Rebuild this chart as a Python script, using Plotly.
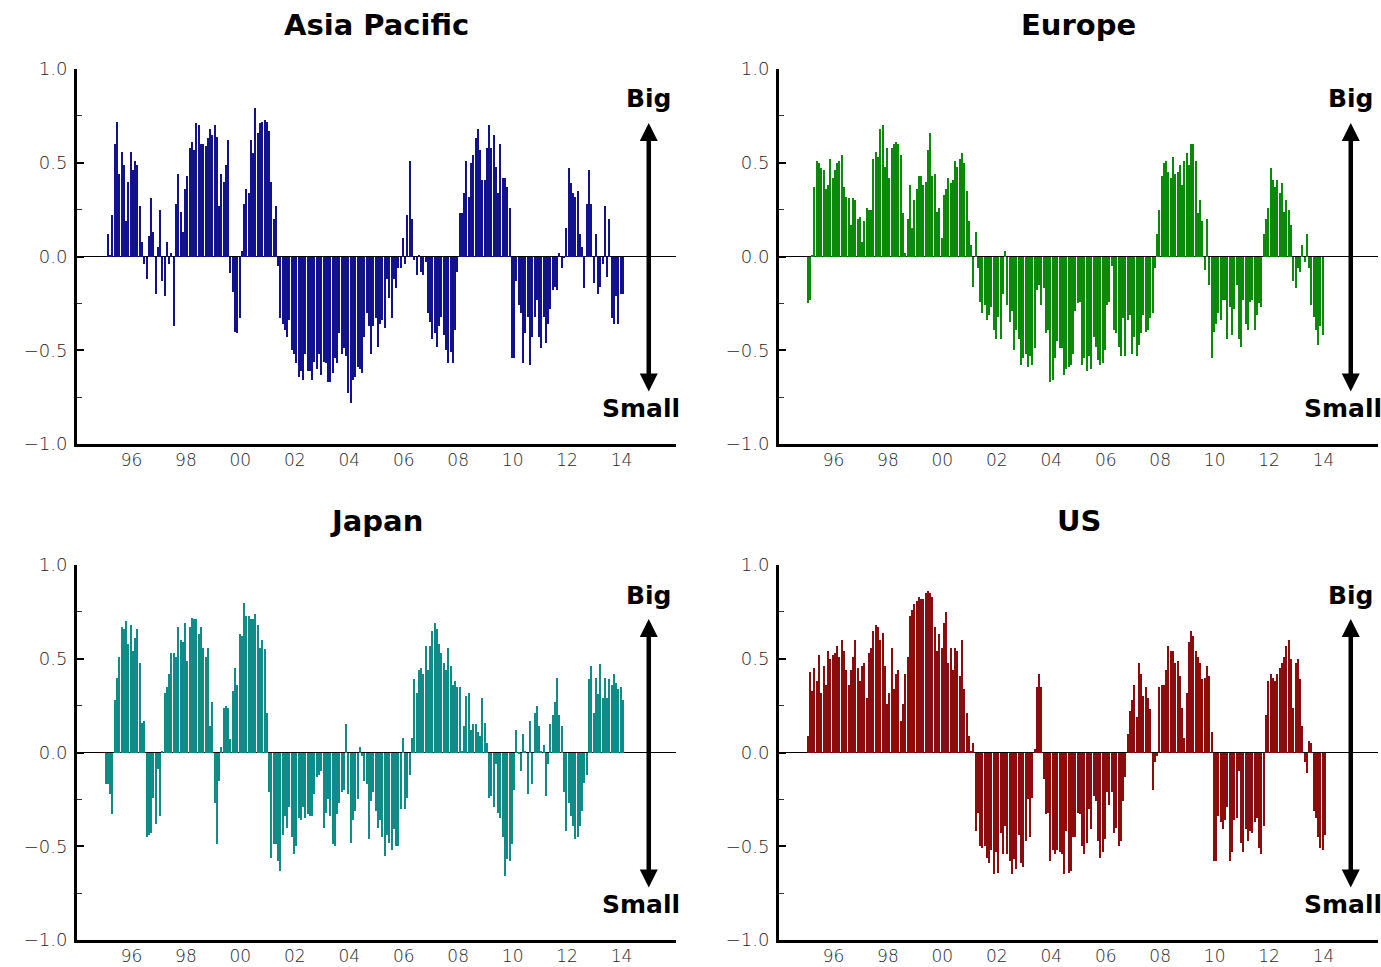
import plotly.graph_objects as go

# ---------------- data (monthly, from early 1995) ----------------
asia_pacific = [
    0.00, 0.12, 0.01, 0.22, 0.60, 0.72, 0.44, 0.56, 0.49, 0.19,
    0.40, 0.56, 0.46, 0.51, 0.49, 0.27, 0.08, -0.04, -0.12, 0.11,
    0.31, 0.13, -0.20, 0.05, 0.25, -0.13, -0.21, 0.08, -0.04, 0.02,
    -0.37, 0.28, 0.44, 0.24, 0.13, 0.36, 0.43, 0.58, 0.61, 0.57,
    0.71, 0.70, 0.60, 0.60, 0.59, 0.63, 0.68, 0.65, 0.70, 0.64,
    0.27, 0.44, 0.40, 0.49, 0.62, -0.09, -0.19, -0.40, -0.41, -0.33,
    0.03, 0.28, 0.36, 0.34, 0.62, 0.55, 0.79, 0.66, 0.71, 0.72,
    0.73, 0.72, 0.67, 0.40, 0.20, 0.27, -0.05, -0.33, -0.36, -0.39,
    -0.43, -0.34, -0.50, -0.52, -0.57, -0.64, -0.61, -0.66, -0.52, -0.61,
    -0.61, -0.66, -0.56, -0.60, -0.52, -0.63, -0.56, -0.57, -0.67, -0.67,
    -0.62, -0.54, -0.57, -0.41, -0.52, -0.49, -0.53, -0.73, -0.78, -0.66,
    -0.64, -0.59, -0.60, -0.62, -0.43, -0.30, -0.37, -0.52, -0.37, -0.33,
    -0.48,
    -0.36, -0.34, -0.38, -0.12, -0.22, -0.33, -0.12, -0.17, -0.06, -0.06,
    0.10, -0.04, 0.22, 0.51, 0.20, -0.02, -0.10, 0.01, -0.08, -0.10,
    -0.03, -0.30, -0.35, -0.44, -0.41, -0.48, -0.37, -0.32, -0.42, -0.50,
    -0.57, -0.51, -0.57, -0.39, -0.08, 0.23, 0.23, 0.34, 0.51, 0.32,
    0.50, 0.54, 0.63, 0.68, 0.57, 0.41, 0.41, 0.58, 0.70, 0.58,
    0.65, 0.48, 0.34, 0.60, 0.42, 0.42, 0.37, 0.26, -0.54, -0.54,
    -0.13, -0.26, -0.30, -0.57, -0.41, -0.32, -0.58, -0.43, -0.32, -0.23,
    -0.43, -0.49, -0.32, -0.46, -0.36, -0.28, -0.18, -0.16, -0.18, 0.02,
    -0.06, -0.01, 0.15, 0.47, 0.39, 0.34, 0.32, 0.35, 0.12, 0.05,
    -0.17, 0.28, 0.46, 0.28, -0.14, 0.12, -0.20, -0.16, -0.04, 0.27,
    -0.11, 0.20, -0.33, -0.36, -0.21, -0.36, -0.20, -0.20,
]

europe = [
    -0.25, -0.23, 0.005, 0.37, 0.51, 0.50, 0.47, 0.46, 0.36, 0.38,
    0.52, 0.42, 0.46, 0.50, 0.51, 0.54, 0.37, 0.32, 0.31, 0.17,
    0.31, 0.30, 0.20, 0.21, 0.08, 0.19, 0.26, 0.25, 0.25, 0.52,
    0.56, 0.53, 0.68, 0.70, 0.48, 0.58, 0.42, 0.58, 0.60, 0.61,
    0.60, 0.54, 0.23, 0.02, 0.20, 0.38, 0.15, 0.30, 0.36, 0.43,
    0.43, 0.38, 0.40, 0.57, 0.66, 0.43, 0.44, 0.24, 0.26, 0.10,
    0.33, 0.36, 0.42, 0.39, 0.41, 0.51, 0.48, 0.52, 0.55, 0.50,
    0.35, 0.19, 0.06, -0.16, 0.13, -0.06, -0.24, -0.30, -0.26, -0.34,
    -0.31, -0.27, -0.39, -0.44, -0.32, -0.44, -0.20, 0.03, -0.26, -0.35,
    -0.29, -0.50, -0.39, -0.44, -0.58, -0.54, -0.52, -0.59, -0.53, -0.58,
    -0.49, -0.18, -0.15, -0.26, -0.17, -0.41, -0.39, -0.67, -0.66, -0.54,
    -0.45, -0.49, -0.49, -0.63, -0.60, -0.59, -0.58, -0.52, -0.29, -0.25,
    -0.24, -0.58, -0.54, -0.61, -0.53, -0.60, -0.43, -0.48, -0.55, -0.58,
    -0.57, -0.50, -0.26, -0.24, -0.05, -0.39, -0.41, -0.48, -0.53, -0.33,
    -0.53, -0.34, -0.31, -0.52, -0.43, -0.53, -0.47, -0.41, -0.31, -0.40,
    -0.39, -0.33, -0.30, -0.06, 0.12, 0.25, 0.43, 0.50, 0.51, 0.45,
    0.42, 0.53, 0.44, 0.45, 0.49, 0.38, 0.51, 0.55, 0.49, 0.60,
    0.60, 0.51, 0.23, 0.30, 0.19, -0.07, 0.20, -0.15, -0.54, -0.40,
    -0.36, -0.30, -0.34, -0.23, -0.23, -0.44, -0.27, -0.42, -0.28, -0.15,
    -0.44, -0.48, -0.23, -0.36, -0.39, -0.24, -0.23, -0.39, -0.31, -0.25,
    -0.27, 0.12, 0.20, 0.26, 0.47, 0.41, 0.37, 0.41, 0.34, 0.39,
    0.24, 0.30, 0.25, 0.17, -0.13, -0.17, -0.06, -0.08, 0.06, -0.03,
    0.12, -0.06, -0.26, -0.32, -0.39, -0.47, -0.37, -0.42,
]

japan = [
    -0.17, -0.17, -0.22, -0.33, 0.28, 0.40, 0.51, 0.67, 0.66, 0.70,
    0.58, 0.68, 0.54, 0.61, 0.66, 0.48, 0.16, 0.17, -0.45, -0.44,
    -0.43, -0.24, -0.38, -0.09, -0.34, 0.01, 0.32, 0.35, 0.42, 0.53,
    0.53, 0.51, 0.67, 0.60, 0.59, 0.69, 0.49, 0.67, 0.72, 0.71,
    0.71, 0.63, 0.67, 0.56, 0.51, 0.56, 0.14, 0.27, -0.27, -0.49,
    -0.15, 0.03, 0.24, 0.25, 0.24, 0.07, 0.33, 0.45, 0.36, 0.63,
    0.62, 0.80, 0.73, 0.73, 0.71, 0.71, 0.74, 0.68, 0.56, 0.60,
    0.55, 0.21, -0.21, -0.56, -0.49, -0.49, -0.58, -0.63, -0.44, -0.34,
    -0.40, -0.29, -0.45, -0.54, -0.50, -0.35, -0.36, -0.29, -0.35, -0.33,
    -0.34, -0.34, -0.22, -0.13, -0.12, -0.10, -0.40, -0.32, -0.25, -0.34,
    -0.49, -0.50, -0.33, -0.27, -0.21, -0.20, 0.15, -0.22, -0.48, -0.36,
    -0.31, -0.25, 0.03, -0.02, -0.15, -0.17, -0.46, -0.26, -0.21, -0.31,
    -0.40, -0.36, -0.45,
    -0.55, -0.44, -0.48, -0.52, -0.41, -0.50, -0.50, -0.30, 0.08, -0.30,
    -0.24, -0.12, 0.08, 0.39, 0.32, 0.44, 0.45, 0.42, 0.57, 0.44,
    0.57, 0.65, 0.69, 0.66, 0.58, 0.53, 0.48, 0.44, 0.56, 0.46,
    0.36, 0.38, 0.35, 0.35, 0.01, 0.14, 0.30, 0.32, 0.12, 0.15,
    0.15, 0.11, 0.09, 0.29, 0.16, 0.05, -0.24, -0.23, -0.29, -0.06,
    -0.32, -0.35, -0.45, -0.66, -0.57, -0.58, -0.49, -0.20, 0.12, -0.01,
    -0.10, 0.10, 0.01, -0.22, 0.17, -0.17, 0.21, 0.25, 0.14, 0.01,
    0.04, -0.23, -0.06, 0.15, 0.20, 0.27, 0.40, 0.20, 0.14, -0.21,
    -0.42, -0.27, -0.34, -0.39, -0.46, -0.45, -0.39, -0.31, -0.16, -0.12,
    0.39, 0.46, 0.21, 0.40, 0.31, 0.47, 0.29, 0.40, 0.29, 0.39,
    0.36, 0.42, 0.37, 0.34, 0.35, 0.28,
]

us = [
    0.09, 0.43, 0.33, 0.45, 0.38, 0.52, 0.32, 0.46, 0.36, 0.54,
    0.50, 0.52, 0.53, 0.57, 0.51, 0.60, 0.54, 0.44, 0.36, 0.44,
    0.51, 0.60, 0.45, 0.38, 0.46, 0.48, 0.29, 0.53, 0.56, 0.65,
    0.68, 0.67, 0.60, 0.64, 0.46, 0.26, 0.32, 0.56, 0.34, 0.42,
    0.44, 0.17, 0.26, 0.42, 0.51, 0.73, 0.76, 0.79, 0.81, 0.83,
    0.82, 0.82, 0.85, 0.86, 0.85, 0.83, 0.67, 0.54, 0.63, 0.56,
    0.69, 0.75, 0.48, 0.56, 0.44, 0.56, 0.54, 0.41, 0.60, 0.34,
    0.21, 0.09, 0.01, 0.05, -0.42, -0.32, -0.50, -0.51, -0.50, -0.56,
    -0.59, -0.52, -0.65, -0.53, -0.64, -0.43, -0.54, -0.39, -0.54, -0.58,
    -0.65, -0.57, -0.62, -0.44, -0.59, -0.61, -0.47, -0.25, -0.45, -0.24,
    0.02, 0.35, 0.42, 0.35, -0.14, -0.33, -0.32, -0.58, -0.52, -0.54,
    -0.52, -0.53, -0.54, -0.65, -0.42, -0.64, -0.63, -0.45, -0.45, -0.32,
    -0.33, -0.50, -0.54,
    -0.48, -0.30, -0.41, -0.23, -0.26, -0.47, -0.56, -0.53, -0.46, -0.21,
    -0.28, -0.21, -0.43, -0.40, -0.50, -0.47, -0.26, -0.13, 0.10, 0.22,
    0.28, 0.36, 0.19, 0.48, 0.42, 0.30, 0.35, 0.29, 0.23, -0.20,
    -0.05, -0.02, 0.35, 0.36, 0.36, 0.44, 0.57, 0.54, 0.54, 0.48,
    0.49, 0.41, 0.24, 0.08, 0.32, 0.59, 0.65, 0.62, 0.54, 0.51,
    0.48, 0.39, 0.40, 0.46, 0.41, 0.11, -0.58, -0.58, -0.34, -0.37,
    -0.41, -0.36, -0.29, -0.58, -0.53, -0.36, -0.35, -0.10, -0.48, -0.53,
    -0.41, -0.47, -0.42, -0.43, -0.37, -0.35, -0.51, -0.54, -0.39, 0.20,
    0.38, 0.42, 0.40, 0.38, 0.42, 0.45, 0.48, 0.51, 0.57, 0.60,
    0.50, 0.24, 0.48, 0.50, 0.39, 0.14, -0.05, -0.11, 0.06, 0.05,
    -0.31, -0.35, -0.45, -0.51, -0.52, -0.44,
]

panel_titles = ["Asia Pacific", "Europe", "Japan", "US"]
panel_colors = ["#12128c", "#0a890a", "#118b87", "#8a0c0c"]
series = [asia_pacific, europe, japan, us]

start_year = 1995.06
tick_years = list(range(1996, 2015, 2))
tick_text = ["%02d" % (y % 100) for y in tick_years]
y_ticks = [-1.0, -0.5, 0.0, 0.5, 1.0]
arrow_year = 2015.0

# ---------------- layout geometry ----------------
W, H = 1381, 967
x_domains = [(77 / W, 676 / W), (779 / W, 1378 / W)]
y_domains = [(1 - 444 / H, 1 - 69 / H), (1 - 940 / H, 1 - 565 / H)]
title_y = [1 - 25 / H, 1 - 521 / H]

fig = go.Figure()
tick_font = dict(family="'DejaVu Sans', sans-serif", size=18, color="#1e1e1e", weight=200)
xtick_font = dict(tick_font, size=17)
bold_font = dict(family="'DejaVu Sans', sans-serif", size=29, color="black", weight="bold")

annotations = []
for k, (name, col, vals) in enumerate(zip(panel_titles, panel_colors, series)):
    r, c = divmod(k, 2)
    sfx = "" if k == 0 else str(k + 1)
    xs = [start_year + i / 12 for i in range(len(vals))]
    fig.add_trace(go.Bar(
        x=xs, y=vals, marker=dict(color=col, line=dict(width=0)),
        width=0.05, xaxis="x" + sfx, yaxis="y" + sfx, showlegend=False,
    ))
    fig.layout["xaxis" + sfx] = dict(
        domain=x_domains[c], anchor="y" + sfx, range=[1994, 2016],
        tickvals=tick_years, ticktext=tick_text, ticks="",
        showline=True, linewidth=3, linecolor="black", automargin=False,
        showgrid=False, zeroline=False, tickfont=xtick_font,
        ticklabelstandoff=-1,
    )
    fig.layout["yaxis" + sfx] = dict(
        domain=y_domains[r], anchor="x" + sfx, range=[-1, 1],
        tickvals=y_ticks, tickformat=".1f", ticks="inside", ticklen=7,
        tickwidth=1.5, tickcolor="black", automargin=False,
        minor=dict(tickvals=[-0.75, -0.25, 0.25, 0.75], ticks="inside",
                   ticklen=5, tickwidth=1, tickcolor="#333333"),
        showline=True, linewidth=3, linecolor="black",
        showgrid=False, zeroline=True, zerolinecolor="black", zerolinewidth=1,
        tickfont=tick_font, ticklabelstandoff=3,
    )
    xd = x_domains[c]
    annotations.append(dict(
        text=name, x=(xd[0] + xd[1]) / 2, y=title_y[r], xref="paper", yref="paper",
        showarrow=False, xanchor="center", yanchor="middle", font=bold_font,
    ))
    annotations.append(dict(
        x=arrow_year, y=-0.72, ax=arrow_year, ay=0.72,
        xref="x" + sfx, yref="y" + sfx, axref="x" + sfx, ayref="y" + sfx,
        showarrow=True, arrowhead=2, arrowside="end+start", arrowwidth=4.5,
        arrowsize=0.8, arrowcolor="black", text="",
    ))
    annotations.append(dict(
        text="Big", x=arrow_year, y=0.84, xref="x" + sfx, yref="y" + sfx,
        showarrow=False, xanchor="center", yanchor="middle",
        font=dict(bold_font, size=25),
    ))
    annotations.append(dict(
        text="Small", x=arrow_year - 0.3, y=-0.81, xref="x" + sfx, yref="y" + sfx,
        showarrow=False, xanchor="center", yanchor="middle",
        font=dict(bold_font, size=25),
    ))

fig.update_layout(
    width=W, height=H, margin=dict(l=0, r=0, t=0, b=0, autoexpand=False),
    paper_bgcolor="white", plot_bgcolor="white",
    annotations=annotations, bargap=0,
)

fig.write_html("out.html", config={"displayModeBar": False},
               post_script="document.body.style.margin='0';")
